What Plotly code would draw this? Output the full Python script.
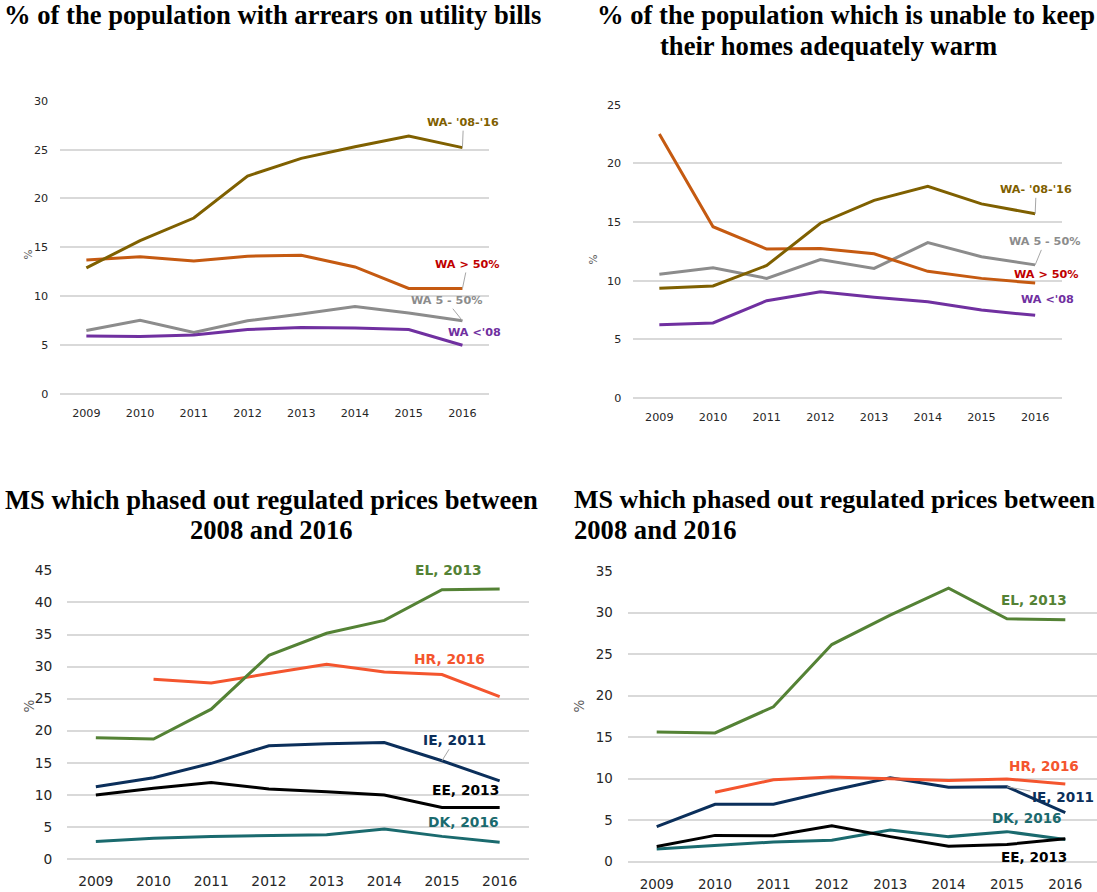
import plotly.graph_objects as go

W, H = 1097, 892

years = [2009, 2010, 2011, 2012, 2013, 2014, 2015, 2016]
years_hr = [2010, 2011, 2012, 2013, 2014, 2015, 2016]

# Chart 1: % of population with arrears on utility bills
arrears_wa_0816 = [12.9, 15.7, 18.0, 22.3, 24.1, 25.3, 26.4, 25.2]
arrears_wa_gt50 = [13.7, 14.05, 13.6, 14.1, 14.2, 13.0, 10.8, 10.8]
arrears_wa_5_50 = [6.5, 7.55, 6.3, 7.5, 8.2, 8.95, 8.3, 7.5]
arrears_wa_lt08 = [5.95, 5.9, 6.05, 6.6, 6.8, 6.75, 6.6, 5.0]

# Chart 2: % unable to keep homes adequately warm
warm_wa_gt50 = [22.5, 14.6, 12.7, 12.75, 12.3, 10.8, 10.2, 9.8]
warm_wa_0816 = [9.35, 9.55, 11.3, 14.9, 16.85, 18.05, 16.55, 15.7]
warm_wa_5_50 = [10.55, 11.1, 10.2, 11.8, 11.05, 13.25, 12.05, 11.35]
warm_wa_lt08 = [6.25, 6.4, 8.3, 9.05, 8.6, 8.2, 7.5, 7.05]

# Chart 3: MS which phased out regulated prices (arrears)
ms1_el = [18.9, 18.7, 23.35, 31.75, 35.2, 37.2, 42.0, 42.1]
ms1_hr = [28.0, 27.45, 28.9, 30.35, 29.15, 28.75, 25.3]
ms1_ie = [11.25, 12.65, 14.9, 17.65, 17.95, 18.15, 15.3, 12.15]
ms1_ee = [9.95, 11.0, 11.9, 10.9, 10.45, 9.95, 8.0, 8.0]
ms1_dk = [2.7, 3.2, 3.5, 3.6, 3.75, 4.65, 3.5, 2.6]

# Chart 4: MS which phased out regulated prices (warmth)
ms2_el = [15.6, 15.5, 18.65, 26.15, 29.7, 32.95, 29.25, 29.15]
ms2_hr = [8.35, 9.85, 10.2, 9.95, 9.75, 9.95, 9.35]
ms2_ie = [4.2, 6.9, 6.9, 8.55, 10.1, 8.95, 9.0, 5.9]
ms2_ee = [1.8, 3.15, 3.1, 4.3, 3.0, 1.85, 2.05, 2.75]
ms2_dk = [1.5, 1.9, 2.35, 2.55, 3.8, 3.0, 3.6, 2.65]

OLIVE = "#7F6000"
BROWN = "#C55A11"
GREY = "#8C8C8C"
PURPLE = "#7030A0"
RED_TXT = "#C00000"
GREEN = "#548235"
HR_C = "#F4552E"
NAVY = "#0B2F5B"
BLACK = "#000000"
TEAL = "#1A6A6E"

GRID = "#D9D9D9"
TICK = "#262626"
SANS = "DejaVu Sans"
SERIF = "Liberation Serif"


def Y(py):
    # vertical pixel position (as measured on the target) -> figure pixel
    return (py - 6.4) / 0.983


def xd(x0, x1):
    return [x0 / W, min(x1 / W, 1.0)]


def yd(y0, y1):
    return [1 - Y(y1) / H, 1 - Y(y0) / H]


fig = go.Figure()

panels = [
    ("", (59.5, 489.3), (99.3, 393.3), [2008.5, 2016.5], 30, 11.2),
    ("2", (632.5, 1062.0), (103.3, 397.3), [2008.5, 2016.5], 25, 11.2),
    ("3", (67.0, 528.5), (570, 859), [2008.5, 2016.5], 45, 13.8),
    ("4", (627.5, 1097), (570.7, 861.7), [2008.5, 2016.5 + 2.5 / 58.4], 35, 13.4),
]

for suf, (x0, x1), (y0, y1), xr, ymax, fs in panels:
    small = fs < 12
    fig.layout["xaxis" + suf] = dict(
        domain=xd(x0, x1), range=xr, anchor="y" + suf,
        tickvals=years, ticktext=[str(y) for y in years],
        showgrid=False, zeroline=False, showline=False,
        ticks="outside", ticklen=8 if small else 10, tickcolor="rgba(0,0,0,0)",
        tickfont=dict(family=SANS, size=fs, color=TICK), fixedrange=True,
    )
    fig.layout["yaxis" + suf] = dict(
        domain=yd(y0, y1), range=[0, ymax], anchor="x" + suf,
        dtick=5, tick0=0, showgrid=True, gridcolor=GRID, gridwidth=1.5,
        zeroline=True, zerolinecolor=GRID, zerolinewidth=1.5, showline=False,
        ticks="outside", ticklen=8 if small else 11, tickcolor="rgba(0,0,0,0)",
        tickfont=dict(family=SANS, size=fs, color=TICK), fixedrange=True,
    )


def line(x, y, color, suf):
    fig.add_trace(go.Scatter(
        x=x, y=y, mode="lines", line=dict(color=color, width=3),
        xaxis="x" + suf, yaxis="y" + suf, showlegend=False, hoverinfo="skip",
    ))


# Panel 1
line(years, arrears_wa_5_50, GREY, "")
line(years, arrears_wa_lt08, PURPLE, "")
line(years, arrears_wa_gt50, BROWN, "")
line(years, arrears_wa_0816, OLIVE, "")
# Panel 2
line(years, warm_wa_5_50, GREY, "2")
line(years, warm_wa_lt08, PURPLE, "2")
line(years, warm_wa_gt50, BROWN, "2")
line(years, warm_wa_0816, OLIVE, "2")
# Panel 3
line(years, ms1_dk, TEAL, "3")
line(years, ms1_ee, BLACK, "3")
line(years, ms1_ie, NAVY, "3")
line(years_hr, ms1_hr, HR_C, "3")
line(years, ms1_el, GREEN, "3")
# Panel 4
line(years, ms2_dk, TEAL, "4")
line(years, ms2_ee, BLACK, "4")
line(years, ms2_ie, NAVY, "4")
line(years_hr, ms2_hr, HR_C, "4")
line(years, ms2_el, GREEN, "4")

ann = []


def label(text, suf, x, y, color, fs, ax=None, ay=None, xs=0, ys=0):
    d = dict(text=text, xref="x" + suf, yref="y" + suf, x=x, y=y,
             font=dict(family=SANS, size=fs, color=color))
    if ax is not None:
        d.update(showarrow=True, ax=ax, ay=ay, arrowhead=0, arrowwidth=1,
                 arrowcolor="#A6A6A6", standoff=0, startstandoff=0)
    else:
        d.update(showarrow=False, xshift=xs, yshift=ys)
    ann.append(d)


B = lambda s: "<b>" + s + "</b>"

# Panel 1 labels
label(B("WA- '08-'16"), "", 2016, arrears_wa_0816[-1], OLIVE, 11.2, ax=1, ay=-25)
label(B("WA &gt; 50%"), "", 2016, arrears_wa_gt50[-1], RED_TXT, 11.2, ax=5, ay=-24)
label(B("WA 5 - 50%"), "", 2016, arrears_wa_5_50[-1], GREY, 11.2, ax=-16, ay=-20)
label(B("WA &lt;'08"), "", 2016, arrears_wa_lt08[-1], PURPLE, 11.2, xs=12.5, ys=13)
# Panel 2 labels
label(B("WA- '08-'16"), "2", 2016, warm_wa_0816[-1], OLIVE, 11.2, ax=1, ay=-24)
label(B("WA 5 - 50%"), "2", 2016, warm_wa_5_50[-1], GREY, 11.2, ax=9.5, ay=-23)
label(B("WA &gt; 50%"), "2", 2016, warm_wa_gt50[-1], RED_TXT, 11.2, xs=11, ys=9)
label(B("WA &lt;'08"), "2", 2016, warm_wa_lt08[-1], PURPLE, 11.2, xs=12.5, ys=16)
# Panel 3 labels
label(B("EL, 2013"), "3", 2016, ms1_el[-1], GREEN, 13.8, xs=-51, ys=19)
label(B("HR, 2016"), "3", 2016, ms1_hr[-1], HR_C, 13.8, xs=-50, ys=38)
label(B("IE, 2011"), "3", 2015, ms1_ie[-2], NAVY, 13.8, ax=13, ay=-21)
label(B("EE, 2013"), "3", 2016, ms1_ee[-1], BLACK, 13.8, xs=-34.5, ys=18)
label(B("DK, 2016"), "3", 2016, ms1_dk[-1], TEAL, 13.8, xs=-36, ys=20)
# Panel 4 labels
label(B("EL, 2013"), "4", 2016, ms2_el[-1], GREEN, 13.6, xs=-31, ys=20)
label(B("HR, 2016"), "4", 2016, ms2_hr[-1], HR_C, 13.6, xs=-21, ys=18)
label(B("IE, 2011"), "4", 2015, ms2_ie[-2], NAVY, 13.6, ax=56, ay=10)
label(B("DK, 2016"), "4", 2016, ms2_dk[-1], TEAL, 13.6, xs=-38, ys=22)
label(B("EE, 2013"), "4", 2016, ms2_ee[-1], BLACK, 13.6, xs=-31, ys=-18)

# "%" axis titles
for (px, py, fs) in [(20.5, 247, 10.5), (593.5, 252, 10.5), (19, 715, 13.5), (579, 715, 13.5)]:
    ann.append(dict(text="%", xref="paper", yref="paper", x=px / W, y=1 - Y(py) / H,
                    showarrow=False, textangle=-90,
                    font=dict(family=SANS, size=fs, color="#595959")))


def title(text, px, py, xanchor="center", size=26.6):
    ann.append(dict(text="<b>" + text + "</b>", xref="paper", yref="paper",
                    x=px / W, y=1 - Y(py) / H,
                    xanchor=xanchor, yanchor="middle", showarrow=False,
                    font=dict(family=SERIF, size=size, color="black")))


title("% of the population with arrears on utility bills", 272, 13)
title("% of the population which is unable to keep", 846, 13)
title("their homes adequately warm", 828, 44)
title("MS which phased out regulated prices between", 271.5, 499)
title("2008 and 2016", 271, 529)
title("MS which phased out regulated prices between", 572, 499, xanchor="left", size=26.0)
title("2008 and 2016", 572, 529, xanchor="left")

fig.update_layout(
    width=W, height=H, margin=dict(l=0, r=0, t=0, b=0),
    paper_bgcolor="white", plot_bgcolor="white",
    annotations=ann, showlegend=False,
)

fig.write_html(
    "out.html",
    config={"displayModeBar": False},
    post_script="document.body.style.margin='0';document.body.style.padding='0';"
                "document.body.style.overflow='hidden';",
)
